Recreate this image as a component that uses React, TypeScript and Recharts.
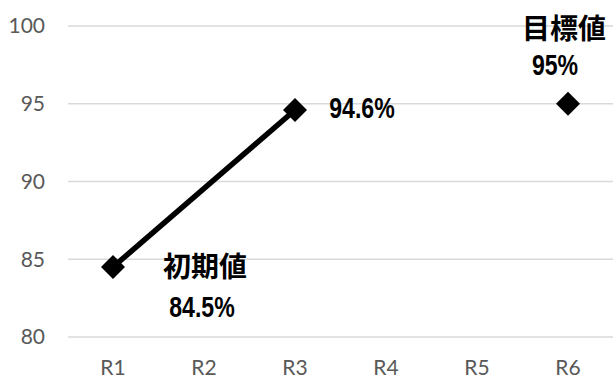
import React from 'react';
import { LineChart, Line, XAxis, YAxis, CartesianGrid } from 'recharts';

const categories = ['R1', 'R2', 'R3', 'R4', 'R5', 'R6'];
const actualValues = [84.5, null, 94.6, null, null, null];
const targetValues = [null, null, null, null, null, 95];
const actualTitles = ['初期値', '', '', '', '', ''];
const targetTitles = ['', '', '', '', '', '目標値'];
const yTicks = [80, 85, 90, 95, 100];

const data = categories.map((name, i) => ({
  name,
  actual: actualValues[i],
  target: targetValues[i],
}));

// label offsets from the marker, per index
const actualOffsets: Record<number, { title?: [number, number]; value: [number, number] }> = {
  0: { title: [92, -2], value: [89, 40] },
  2: { value: [67, -2] },
};
const targetOffsets: Record<number, { title?: [number, number]; value: [number, number] }> = {
  5: { title: [-4, -77], value: [-13, -39] },
};

const titleStyle = { fontFamily: '"Noto Sans CJK JP", sans-serif', fontWeight: 700, fontSize: 28, fill: '#000' };
const valueStyle = {
  fontFamily: '"Liberation Sans", Arial, sans-serif',
  fontWeight: 700,
  fontSize: 30,
  fill: '#000',
};

const Diamond = (props: any) => {
  const { cx, cy, value, index } = props;
  if (value == null || cx == null || cy == null) return <g key={`d-${index}`} />;
  const r = 12;
  return (
    <polygon
      key={`d-${index}`}
      points={`${cx},${cy - r} ${cx + r},${cy} ${cx},${cy + r} ${cx - r},${cy}`}
      fill="#000"
    />
  );
};

const makeLabel = (titles: string[], offsets: typeof actualOffsets) => (props: any) => {
  const { x, y, value, index } = props;
  const off = offsets[index];
  if (value == null || !off) return <g key={`l-${index}`} />;
  return (
    <g key={`l-${index}`}>
      {off.title && titles[index] && (
        <text x={x + off.title[0]} y={y + off.title[1]} textAnchor="middle" dominantBaseline="central" style={titleStyle}>
          {titles[index]}
        </text>
      )}
      {/* narrow bold digits, like the original */}
      <g transform={`translate(${x + off.value[0]},${y + off.value[1]}) scale(0.77,1)`}>
        <text x={0} y={0} textAnchor="middle" dominantBaseline="central" style={valueStyle}>
          {`${value}%`}
        </text>
      </g>
    </g>
  );
};

export default function App() {
  return (
    <div style={{ position: 'absolute', left: 0, top: 0, width: 613, height: 378, background: '#fff' }}>
      <LineChart width={613} height={378} data={data} margin={{ top: 26, right: 0, left: 0, bottom: 0 }}>
        <CartesianGrid vertical={false} stroke="#d9d9d9" strokeWidth={1.5} />
        <XAxis
          dataKey="name"
          axisLine={false}
          tickLine={false}
          tickSize={0}
          tickMargin={23}
          height={41}
          padding={{ left: 45, right: 45 }}
          tick={{ fill: '#595959', fontSize: 21, fontFamily: 'Lato, sans-serif' }}
        />
        <YAxis
          domain={[80, 100]}
          ticks={yTicks}
          axisLine={false}
          tickLine={false}
          tickSize={0}
          tickMargin={23}
          width={68}
          tick={{ fill: '#595959', fontSize: 21, fontFamily: 'Lato, sans-serif' }}
        />
        <Line
          dataKey="actual"
          stroke="#000"
          strokeWidth={5.5}
          connectNulls
          dot={Diamond}
          activeDot={false}
          isAnimationActive={false}
          label={makeLabel(actualTitles, actualOffsets)}
        />
        <Line
          dataKey="target"
          stroke="none"
          dot={Diamond}
          activeDot={false}
          isAnimationActive={false}
          label={makeLabel(targetTitles, targetOffsets)}
        />
      </LineChart>
    </div>
  );
}
